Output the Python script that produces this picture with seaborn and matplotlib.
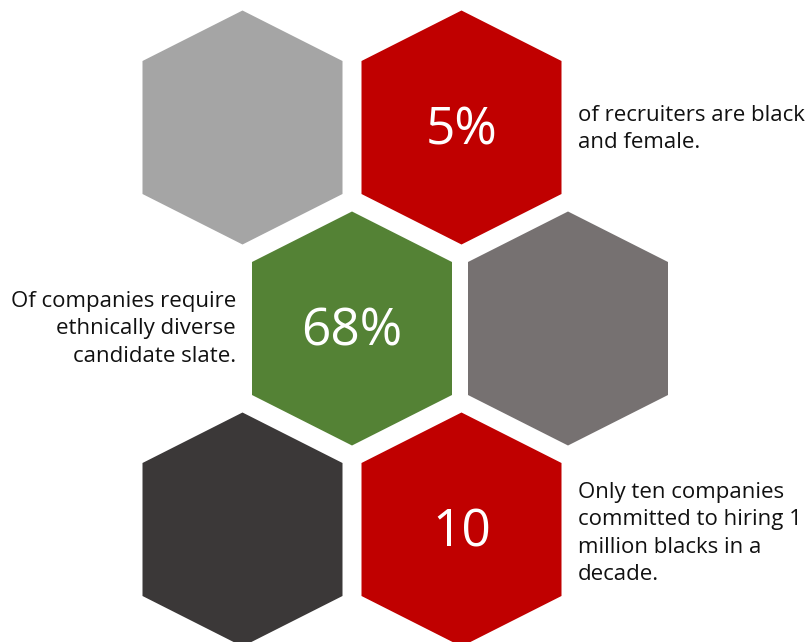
import numpy as np
import pandas as pd
import seaborn as sns
import matplotlib.pyplot as plt
from matplotlib.path import Path

# stats shown in the honeycomb
stat_values = ["5%", "68%", "10"]
stat_captions = [
    ["of recruiters are black", "and female."],
    ["Of companies require", "ethnically diverse", "candidate slate."],
    ["Only ten companies", "committed to hiring 1", "million blacks in a", "decade."],
]

# honeycomb cells (pixel layout) and their fills
cell_names = ["grey_top", "stat_0", "stat_1", "grey_mid", "dark_bottom", "stat_2"]
cell_x = [242.5, 461.5, 352.0, 568.0, 242.5, 461.5]
cell_y = [127.5, 127.5, 328.5, 328.5, 529.5, 529.5]
cell_colors = ["#A5A5A5", "#C00000", "#548235", "#767171", "#3B3838", "#C00000"]

sns.set_theme(style="white")
plt.rcParams["font.family"] = ["Open Sans", "DejaVu Sans"]

W, H, DPI = 809, 642, 100
fig = plt.figure(figsize=(W / DPI, H / DPI), dpi=DPI)
ax = fig.add_axes([0, 0, 1, 1])

# stretched pointy-top hexagon, in pixels around its centre
hex_verts = np.array([(0, 117), (100, 66.5), (100, -66.5), (0, -117),
                      (-100, -66.5), (-100, 66.5), (0, 117)])
hex_marker = Path(hex_verts, closed=True)
hex_size = (234 * 72 / DPI) ** 2  # marker area in pt^2

df = pd.DataFrame({"cell": cell_names, "x": cell_x, "y": cell_y})
sns.scatterplot(data=df, x="x", y="y", hue="cell",
                palette=dict(zip(cell_names, cell_colors)),
                marker=hex_marker, s=hex_size, linewidth=0,
                legend=False, ax=ax)

ax.set_xlim(0, W)
ax.set_ylim(H, 0)
ax.set_axis_off()

# big numbers inside the coloured cells
for i, val in enumerate(stat_values):
    k = cell_names.index(f"stat_{i}")
    ax.text(cell_x[k], cell_y[k] + 17, val, color="white", fontsize=37,
            ha="center", va="baseline")

# captions beside the cells
caption_pos = [(578, 121.0, "left"), (236, 306.7, "right"), (578, 498.0, "left")]
line_gap = 27.5
for lines, (tx, ty, ha) in zip(stat_captions, caption_pos):
    for j, line in enumerate(lines):
        ax.text(tx, ty + j * line_gap, line, color="#111111", fontsize=16,
                ha=ha, va="baseline")

fig.savefig("out.png", dpi=DPI)
